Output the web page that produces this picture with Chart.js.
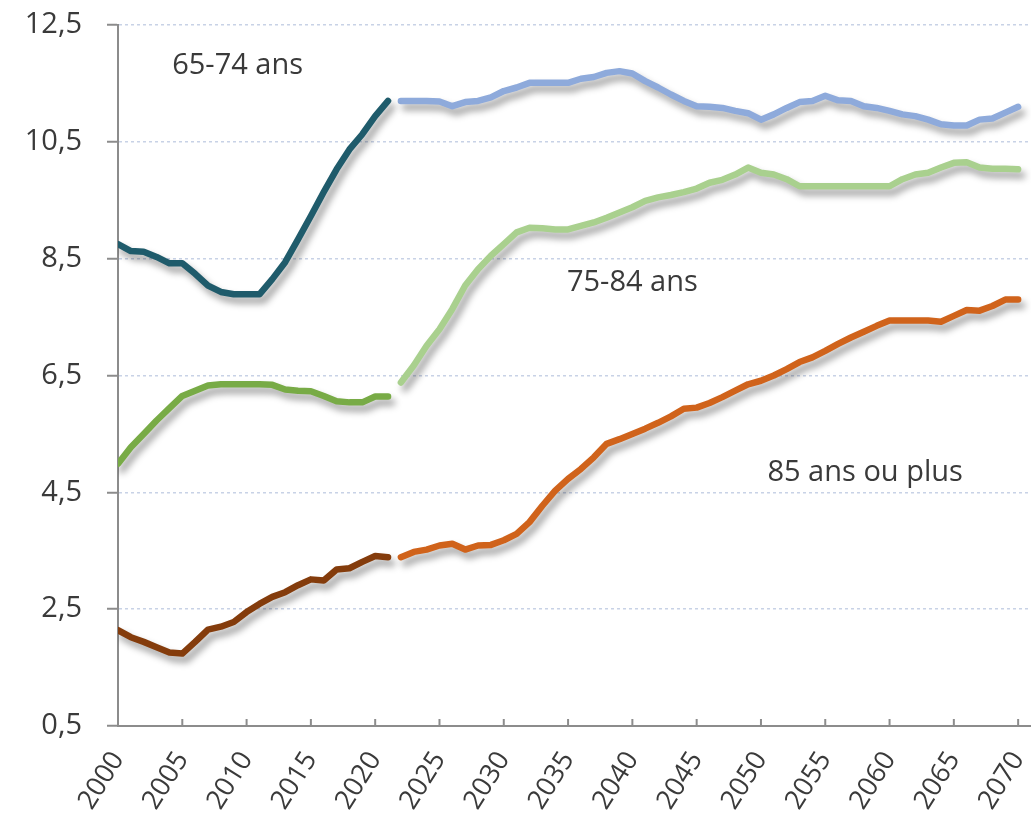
<!DOCTYPE html>
<html>
<head>
<meta charset="utf-8">
<script src="https://cdn.jsdelivr.net/npm/chart.js@4/dist/chart.umd.min.js"></script>
<style>
  html, body { margin: 0; padding: 0; background: #fff; }
  #wrap { width: 1031px; height: 817px; position: relative; }
</style>
</head>
<body>
<div id="wrap"><canvas id="chart"></canvas></div>
<script>
// === DONNÉES ===
const anneesHist = [];
for (let a = 2000; a <= 2021; a++) anneesHist.push(a);
const anneesProj = [];
for (let a = 2022; a <= 2070; a++) anneesProj.push(a);

const xTicks = [2000, 2005, 2010, 2015, 2020, 2025, 2030, 2035, 2040, 2045, 2050, 2055, 2060, 2065, 2070];
const yTicks = [0.5, 2.5, 4.5, 6.5, 8.5, 10.5, 12.5];

const hist65 = [8.75, 8.63, 8.62, 8.53, 8.42, 8.42, 8.24, 8.04, 7.93, 7.89, 7.89, 7.89, 8.15, 8.44, 8.83, 9.23, 9.64, 10.03, 10.37, 10.63, 10.94, 11.20];
const hist75 = [4.99, 5.27, 5.50, 5.73, 5.94, 6.15, 6.24, 6.33, 6.35, 6.35, 6.35, 6.35, 6.34, 6.26, 6.24, 6.23, 6.15, 6.06, 6.04, 6.04, 6.14, 6.14];
const hist85 = [2.14, 2.02, 1.94, 1.85, 1.76, 1.74, 1.94, 2.15, 2.20, 2.28, 2.45, 2.59, 2.71, 2.79, 2.91, 3.01, 2.99, 3.18, 3.20, 3.31, 3.41, 3.39];

const proj65 = [11.20, 11.20, 11.20, 11.19, 11.11, 11.18, 11.20, 11.26, 11.37, 11.43, 11.51, 11.51, 11.51, 11.51, 11.58, 11.61, 11.68, 11.71, 11.67, 11.54, 11.43, 11.31, 11.20, 11.11, 11.10,
  11.08, 11.03, 10.99, 10.88, 10.97, 11.08, 11.18, 11.20, 11.29, 11.21, 11.20, 11.11, 11.08, 11.03, 10.97, 10.94, 10.88, 10.80, 10.78, 10.78, 10.88, 10.90, 11.00, 11.10];
const proj75 = [6.38, 6.67, 7.01, 7.29, 7.64, 8.04, 8.32, 8.55, 8.75, 8.95, 9.03, 9.02, 9.00, 9.00, 9.06, 9.12, 9.20, 9.29, 9.38, 9.49, 9.55, 9.59, 9.64, 9.70, 9.80,
  9.85, 9.94, 10.06, 9.97, 9.94, 9.86, 9.74, 9.74, 9.74, 9.74, 9.74, 9.74, 9.74, 9.74, 9.86, 9.94, 9.97, 10.06, 10.14, 10.15, 10.06, 10.04, 10.04, 10.03];
const proj85 = [3.39, 3.48, 3.52, 3.59, 3.62, 3.52, 3.59, 3.60, 3.68, 3.79, 3.99, 4.27, 4.53, 4.73, 4.90, 5.10, 5.33, 5.41, 5.50, 5.59, 5.69, 5.80, 5.93, 5.95, 6.03,
  6.13, 6.24, 6.35, 6.41, 6.50, 6.61, 6.73, 6.81, 6.92, 7.04, 7.15, 7.25, 7.35, 7.44, 7.44, 7.44, 7.44, 7.42, 7.52, 7.62, 7.61, 7.69, 7.80, 7.80];

// étiquettes posées en coordonnées de données
const etiquettes = [
  { texte: "65-74 ans", x: 2009.3, y: 11.8 },
  { texte: "75-84 ans", x: 2040.0, y: 8.08 },
  { texte: "85 ans ou plus", x: 2058.1, y: 4.83 }
];

const couleurs = {
  hist65: "#1f5b6b", proj65: "#8eaadb",
  hist75: "#78ab46", proj75: "#a9d08e",
  hist85: "#843c0c", proj85: "#d0631b"
};

const FONT = '"Open Sans", "DejaVu Sans", sans-serif';
const GRIS = "#8c8c8c";

const points = (annees, vals) => annees.map((a, i) => ({ x: a, y: vals[i] }));
const serie = (annees, vals, couleur) => ({
  data: points(annees, vals),
  borderColor: couleur,
  backgroundColor: couleur,
  borderWidth: 6.5,
  borderCapStyle: "round",
  borderJoinStyle: "round",
  pointRadius: 0,
  tension: 0,
  fill: false
});

// === OMBRES + ÉTIQUETTES ===
const decor = {
  id: "decor",
  beforeDatasetsDraw(chart) {
    const ctx = chart.ctx;
    ctx.save();
    ctx.shadowColor = "rgba(0,0,0,0.38)";
    ctx.shadowBlur = 7;
    ctx.shadowOffsetX = 4;
    ctx.shadowOffsetY = 6;
  },
  afterDatasetsDraw(chart) {
    const ctx = chart.ctx;
    ctx.restore();
    const xs = chart.scales.x, ys = chart.scales.y;
    // petites graduations vers l'intérieur sur l'axe des x
    ctx.save();
    ctx.strokeStyle = GRIS;
    ctx.lineWidth = 2;
    xs.ticks.forEach(t => {
      if (t.value === 2000) return;
      const px = xs.getPixelForValue(t.value);
      ctx.beginPath();
      ctx.moveTo(px, ys.bottom);
      ctx.lineTo(px, ys.bottom - 7);
      ctx.stroke();
    });
    ctx.fillStyle = "#3a3a3a";
    ctx.font = "29px " + FONT;
    ctx.textAlign = "center";
    ctx.textBaseline = "middle";
    etiquettes.forEach(e => {
      ctx.fillText(e.texte, xs.getPixelForValue(e.x), ys.getPixelForValue(e.y));
    });
    ctx.restore();
  }
};

new Chart(document.getElementById("chart"), {
  type: "line",
  data: {
    datasets: [
      serie(anneesHist, hist65, couleurs.hist65),
      serie(anneesProj, proj65, couleurs.proj65),
      serie(anneesHist, hist75, couleurs.hist75),
      serie(anneesProj, proj75, couleurs.proj75),
      serie(anneesHist, hist85, couleurs.hist85),
      serie(anneesProj, proj85, couleurs.proj85)
    ]
  },
  options: {
    responsive: true,
    maintainAspectRatio: false,
    animation: false,
    layout: { padding: { top: 25, right: 0, bottom: 0, left: 0 } },
    plugins: { legend: { display: false }, tooltip: { enabled: false } },
    scales: {
      x: {
        type: "linear",
        min: 2000,
        max: 2071,
        grid: { display: false },
        border: { display: true, color: GRIS, width: 2 },
        afterBuildTicks: s => { s.ticks = xTicks.map(v => ({ value: v })); },
        afterFit: s => { s.height = 91; s.paddingLeft = 0; s.paddingRight = 0; },
        ticks: {
          autoSkip: false,
          minRotation: 58,
          maxRotation: 58,
          padding: 12,
          color: "#3a3a3a",
          font: { family: FONT, size: 27 },
          callback: v => String(v)
        }
      },
      y: {
        min: 0.5,
        max: 12.5,
        afterBuildTicks: s => { s.ticks = yTicks.map(v => ({ value: v })); },
        afterFit: s => { s.width = 118; s.paddingTop = 0; s.paddingBottom = 0; },
        grid: {
          color: "#c8d2e6",
          lineWidth: 1.5,
          tickColor: GRIS,
          tickLength: 11,
          tickWidth: 2,
          tickBorderDash: []
        },
        border: { display: true, color: GRIS, width: 2, dash: [3, 3] },
        ticks: {
          padding: 25,
          color: "#3a3a3a",
          font: { family: FONT, size: 29 },
          callback: v => v.toFixed(1).replace(".", ",")
        }
      }
    }
  },
  plugins: [decor]
});
</script>
</body>
</html>
